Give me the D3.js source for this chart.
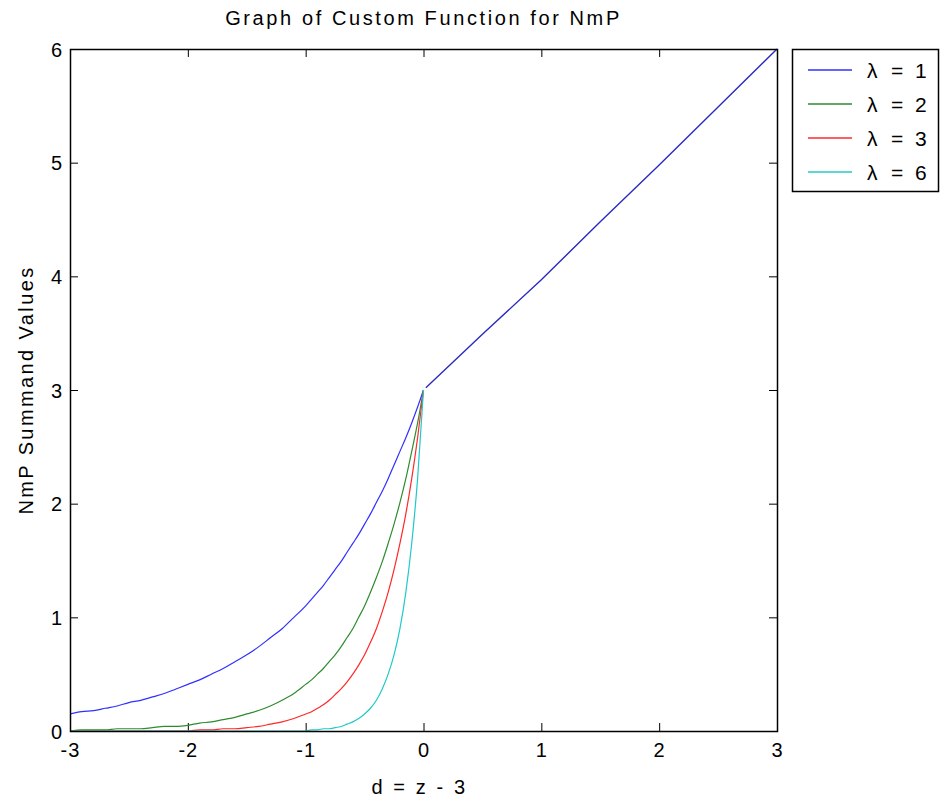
<!DOCTYPE html>
<html>
<head>
<meta charset="utf-8">
<script src="https://cdn.jsdelivr.net/npm/d3@7/dist/d3.min.js"></script>
<style>
  html, body { margin: 0; padding: 0; background: #fff; }
  svg { display: block; }
  text { font-family: "Liberation Sans", Arial, Helvetica, sans-serif; fill: #000; }
</style>
</head>
<body>
<svg id="chart" width="941" height="803"></svg>
<script>
// ---- Data ----
const dNeg = [-3.0, -2.9, -2.8, -2.7, -2.6, -2.5, -2.4, -2.3, -2.2, -2.1, -2.0,
              -1.9, -1.8, -1.7, -1.6, -1.5, -1.4, -1.3, -1.2, -1.1, -1.0,
              -0.95, -0.9, -0.85, -0.8, -0.75, -0.7, -0.65, -0.6, -0.55, -0.5,
              -0.45, -0.4, -0.35, -0.3, -0.25, -0.2, -0.15, -0.1, -0.05, 0.0];
const lambda1 = [0.15, 0.17, 0.18, 0.20, 0.22, 0.25, 0.27, 0.30, 0.33, 0.37, 0.41,
                 0.45, 0.50, 0.55, 0.61, 0.67, 0.74, 0.82, 0.90, 1.00, 1.10,
                 1.16, 1.22, 1.28, 1.35, 1.42, 1.49, 1.57, 1.65, 1.73, 1.82,
                 1.91, 2.01, 2.11, 2.22, 2.34, 2.46, 2.58, 2.71, 2.85, 3.00];
const lambda2 = [0.00, 0.01, 0.01, 0.01, 0.02, 0.02, 0.02, 0.03, 0.04, 0.04, 0.05,
                 0.07, 0.08, 0.10, 0.12, 0.15, 0.18, 0.22, 0.27, 0.33, 0.41,
                 0.45, 0.50, 0.55, 0.61, 0.67, 0.74, 0.82, 0.90, 1.00, 1.10,
                 1.22, 1.35, 1.49, 1.65, 1.82, 2.01, 2.22, 2.46, 2.71, 3.00];
const lambda3 = [0.00, 0.00, 0.00, 0.00, 0.00, 0.00, 0.00, 0.00, 0.00, 0.00, 0.00,
                 0.01, 0.01, 0.02, 0.02, 0.03, 0.04, 0.06, 0.08, 0.11, 0.15,
                 0.17, 0.20, 0.23, 0.27, 0.32, 0.37, 0.43, 0.50, 0.58, 0.67,
                 0.78, 0.90, 1.05, 1.22, 1.42, 1.65, 1.91, 2.22, 2.58, 3.00];
const lambda6 = [0.00, 0.00, 0.00, 0.00, 0.00, 0.00, 0.00, 0.00, 0.00, 0.00, 0.00,
                 0.00, 0.00, 0.00, 0.00, 0.00, 0.00, 0.00, 0.00, 0.00, 0.00,
                 0.01, 0.01, 0.02, 0.02, 0.03, 0.04, 0.06, 0.08, 0.11, 0.15,
                 0.20, 0.27, 0.37, 0.50, 0.67, 0.90, 1.22, 1.65, 2.22, 3.00];
// branch for d > 0 (all curves coincide)
const dPos = [0.02, 0.5, 1.0, 1.5, 2.0, 2.5, 3.0];
const posValues = [3.02, 3.49, 3.97, 4.48, 4.98, 5.49, 6.00];

const seriesNames = ["λ = 1", "λ = 2", "λ = 3", "λ = 6"];
const seriesLambda = ["1", "2", "3", "6"];
const seriesValues = [lambda1, lambda2, lambda3, lambda6];
const seriesColors = ["#3030ff", "#2e8b2e", "#ff2828", "#22c8c8"];
const posColor = "#2a2ac0";

const xTicks = [-3, -2, -1, 0, 1, 2, 3];
const yTicks = [0, 1, 2, 3, 4, 5, 6];

const titleText = "Graph of Custom Function for NmP";
const xLabelText = "d = z - 3";
const yLabelText = "NmP Summand Values";

// ---- Layout ----
const plot = { left: 70, right: 777, top: 49, bottom: 731 };
const svg = d3.select("#chart");

const x = d3.scaleLinear().domain([-3, 3]).range([plot.left, plot.right]);
const y = d3.scaleLinear().domain([0, 6]).range([plot.bottom, plot.top]);

const fontSize = 20;
const fmt = d => String(d); // plain hyphen-minus like the original

// axes (ticks inward, on all four sides)
const tickLen = 8;
const g = svg.append("g");

const bottomAxis = d3.axisBottom(x).tickValues(xTicks).tickSize(-tickLen).tickSizeOuter(0).tickPadding(12).tickFormat(fmt);
const topAxis = d3.axisTop(x).tickValues(xTicks).tickSize(-tickLen).tickSizeOuter(0).tickFormat("");
const leftAxis = d3.axisLeft(y).tickValues(yTicks).tickSize(-tickLen).tickSizeOuter(0).tickPadding(8).tickFormat(fmt);
const rightAxis = d3.axisRight(y).tickValues(yTicks).tickSize(-tickLen).tickSizeOuter(0).tickFormat("");

function styleAxis(sel) {
  sel.select(".domain").remove();
  sel.selectAll(".tick line").attr("stroke", "#000").attr("stroke-width", 1);
  sel.selectAll(".tick text")
    .attr("fill", "#000")
    .style("font-family", '"Liberation Sans", Arial, sans-serif')
    .style("font-size", fontSize + "px");
}

const gb = g.append("g").attr("transform", `translate(0,${plot.bottom})`).call(bottomAxis).call(styleAxis);
gb.selectAll(".tick text").attr("dy", "0.71em").style("letter-spacing", "1px");
g.append("g").attr("transform", `translate(0,${plot.top})`).call(topAxis).call(styleAxis);
const gl = g.append("g").attr("transform", `translate(${plot.left},0)`).call(leftAxis).call(styleAxis);
gl.selectAll(".tick text").attr("dy", "0.36em");
g.append("g").attr("transform", `translate(${plot.right},0)`).call(rightAxis).call(styleAxis);

// curves
const line = d3.line()
  .x(d => x(d[0]))
  .y(d => y(d[1]))
  .curve(d3.curveMonotoneX);

svg.append("clipPath").attr("id", "clip")
  .append("rect").attr("x", plot.left).attr("y", plot.top - 1)
  .attr("width", plot.right - plot.left).attr("height", plot.bottom - plot.top + 1);

const curves = svg.append("g").attr("clip-path", "url(#clip)");
seriesValues.forEach((vals, i) => {
  curves.append("path")
    .datum(dNeg.map((d, k) => [d, vals[k]]))
    .attr("fill", "none")
    .attr("stroke", seriesColors[i])
    .attr("stroke-width", 1.2)
    .attr("d", line);
});
curves.append("path")
  .datum(dPos.map((d, k) => [d, posValues[k]]))
  .attr("fill", "none")
  .attr("stroke", posColor)
  .attr("stroke-width", 1.4)
  .attr("d", d3.line().x(d => x(d[0])).y(d => y(d[1])));

// box frame
svg.append("rect")
  .attr("x", plot.left + 0.5).attr("y", plot.top + 0.5)
  .attr("width", plot.right - plot.left).attr("height", plot.bottom - plot.top)
  .attr("fill", "none").attr("stroke", "#000").attr("stroke-width", 1.5);

// title and labels
svg.append("text")
  .attr("x", (plot.left + plot.right) / 2).attr("y", 25)
  .attr("text-anchor", "middle")
  .style("font-size", "20px").style("letter-spacing", "2.6px")
  .text(titleText);

svg.append("text")
  .attr("x", (plot.left + plot.right) / 2 - 4).attr("y", 794)
  .attr("text-anchor", "middle")
  .style("font-size", fontSize + "px").style("letter-spacing", "2.6px")
  .text(xLabelText);

svg.append("text")
  .attr("transform", `translate(33,${(plot.top + plot.bottom) / 2}) rotate(-90)`)
  .attr("text-anchor", "middle")
  .style("font-size", fontSize + "px").style("letter-spacing", "2.4px")
  .text(yLabelText);

// legend
const legend = svg.append("g");
legend.append("rect")
  .attr("x", 792.5).attr("y", 49.5).attr("width", 146).attr("height", 142)
  .attr("fill", "#fff").attr("stroke", "#000").attr("stroke-width", 1.5);
const rowY = [70, 104, 138, 172];
seriesNames.forEach((name, i) => {
  legend.append("line")
    .attr("x1", 808).attr("x2", 852)
    .attr("y1", rowY[i]).attr("y2", rowY[i])
    .attr("stroke", seriesColors[i]).attr("stroke-width", 1.3);
  const t = legend.append("text")
    .attr("y", rowY[i]).attr("dy", "0.36em")
    .style("font-size", "21px");
  t.append("tspan").attr("x", 867).text("λ");
  t.append("tspan").attr("x", 891).text("=");
  t.append("tspan").attr("x", 915).text(seriesLambda[i]);
  t.append("title").text(name);
});
</script>
</body>
</html>
